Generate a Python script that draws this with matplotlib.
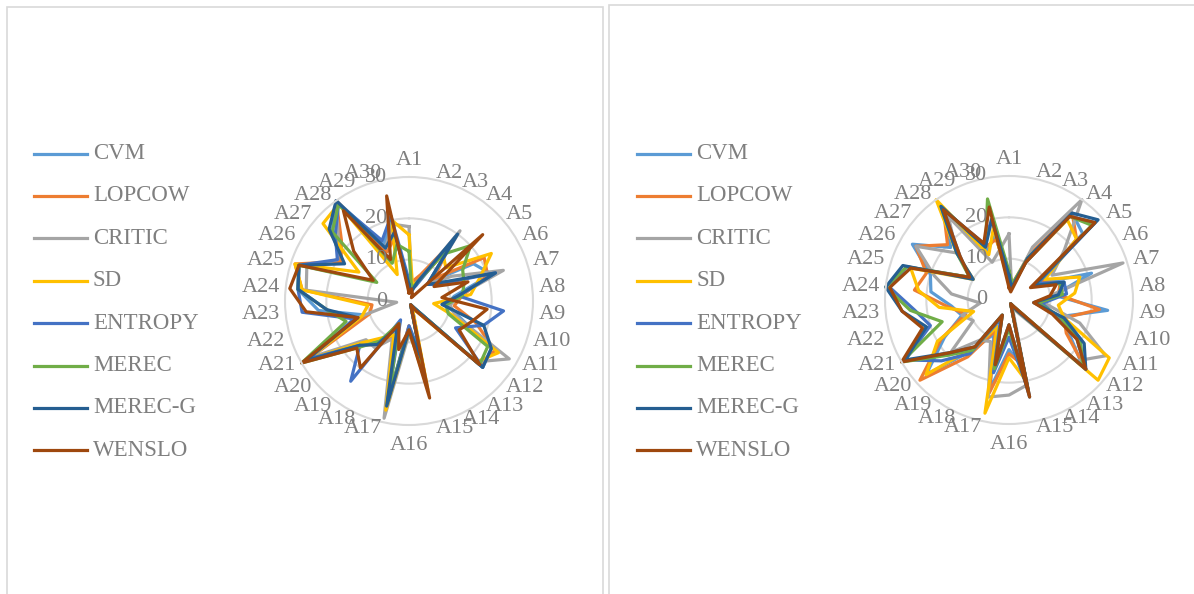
import numpy as np
import matplotlib
matplotlib.use('Agg')
import matplotlib.pyplot as plt
from matplotlib.lines import Line2D
from matplotlib.patches import Rectangle
from matplotlib.transforms import offset_copy

plt.rcParams['font.family'] = ['Liberation Serif', 'DejaVu Serif']

alternatives = ['A%d' % i for i in range(1, 31)]
methods = ['CVM', 'LOPCOW', 'CRITIC', 'SD', 'ENTROPY', 'MEREC', 'MEREC-G', 'WENSLO']
colors = ['#5B9BD5', '#ED7D31', '#A5A5A5', '#FFC000', '#4472C4', '#70AD47', '#255E91', '#9E480E']

# ranks of A1..A30, left panel
cvm_l = [3, 4, 6, 18, 7, 18, 21, 11, 9, 13, 23, 24, 2, 1, 17, 7, 26, 8, 12, 15, 29, 11, 22, 27, 28, 19, 25, 30, 15, 20]
lopcow_l = [4, 5, 7, 17, 8, 21, 20, 13, 11, 17, 24, 23, 3, 2, 18, 6, 27, 9, 13, 16, 28, 10, 9, 26, 29, 19, 22, 30, 13, 16]
critic_l = [18, 3, 5, 21, 6, 12, 24, 12, 10, 12, 28, 22, 2, 1, 16, 8, 29, 10, 14, 14, 27, 13, 3, 25, 26, 20, 23, 30, 14, 19]
sd_l = [16, 4, 5, 14, 12, 23, 18, 15, 6, 11, 25, 22, 3, 2, 22, 7, 27, 9, 11, 15, 28, 12, 10, 26, 29, 14, 28, 29, 7, 20]
entropy_l = [5, 3, 4, 19, 6, 8, 22, 12, 23, 19, 13, 24, 2, 1, 13, 6, 25, 5, 24, 16, 28, 14, 26, 27, 28, 20, 24, 29, 16, 21]
merec_l = [12, 3, 5, 14, 20, 15, 14, 13, 9, 10, 22, 23, 2, 1, 15, 7, 23, 6, 12, 17, 30, 16, 20, 27, 28, 9, 25, 29, 10, 14]
merecg_l = [4, 2, 5, 20, 6, 9, 22, 12, 8, 19, 23, 24, 2, 1, 14, 7, 26, 7, 13, 16, 29, 13, 20, 27, 28, 18, 26, 30, 14, 17]
wenslo_l = [2, 3, 2, 1, 24, 7, 15, 8, 19, 16, 14, 23, 3, 1, 24, 7, 12, 6, 20, 17, 30, 13, 25, 29, 28, 10, 18, 27, 11, 26]

# ranks of A1..A30, right panel
cvm_r = [5, 3, 10, 26, 24, 8, 21, 11, 24, 13, 17, 24, 3, 1, 17, 12, 22, 9, 15, 27, 18, 12, 14, 19, 20, 27, 19, 26, 13, 16]
lopcow_r = [6, 4, 12, 26, 22, 9, 13, 12, 22, 14, 16, 25, 2, 1, 16, 13, 23, 8, 17, 29, 19, 11, 15, 23, 21, 26, 20, 27, 14, 15]
critic_r = [16, 3, 14, 30, 18, 12, 29, 10, 9, 18, 27, 22, 4, 2, 21, 23, 24, 11, 12, 19, 10, 12, 7, 14, 19, 26, 17, 25, 10, 12]
sd_r = [4, 3, 10, 24, 22, 10, 18, 16, 12, 14, 28, 29, 3, 1, 20, 14, 28, 7, 14, 27, 20, 9, 17, 22, 25, 10, 17, 30, 12, 18]
entropy_r = [5, 3, 10, 25, 28, 8, 14, 14, 8, 12, 19, 25, 2, 1, 22, 9, 18, 5, 16, 22, 29, 20, 23, 29, 26, 11, 16, 27, 15, 20]
merec_r = [7, 4, 11, 25, 27, 7, 13, 13, 7, 13, 20, 24, 2, 1, 22, 7, 17, 4, 15, 20, 30, 17, 24, 30, 26, 11, 17, 28, 14, 25]
merecg_r = [6, 3, 11, 26, 29, 7, 14, 12, 6, 14, 21, 25, 3, 1, 24, 6, 16, 4, 14, 19, 29, 21, 26, 30, 27, 10, 17, 28, 14, 20]
wenslo_r = [3, 2, 10, 25, 28, 6, 12, 10, 6, 11, 19, 25, 2, 1, 24, 6, 16, 4, 14, 19, 30, 22, 26, 29, 25, 11, 16, 27, 15, 23]

left_series = [cvm_l, lopcow_l, critic_l, sd_l, entropy_l, merec_l, merecg_l, wenslo_l]
right_series = [cvm_r, lopcow_r, critic_r, sd_r, entropy_r, merec_r, merecg_r, wenslo_r]

W, H = 1194, 594
TXT = '#7F7F7F'
GRID = '#D9D9D9'
FS = 16

fig = plt.figure(figsize=(W / 100, H / 100), dpi=100)

# panel frames
fig.patches.append(Rectangle((7 / W, -0.01), 596 / W, 1 - 7 / H + 0.01,
                             transform=fig.transFigure, fill=False, ec=GRID, lw=1.2))
fig.patches.append(Rectangle((609 / W, -0.01), 600 / W, 1 - 5 / H + 0.01,
                             transform=fig.transFigure, fill=False, ec=GRID, lw=1.2))

angles = np.arange(30) * 2 * np.pi / 30
R_PX = 124


def radar(cx, cy, series):
    ax = fig.add_axes([(cx - R_PX) / W, (H - cy - R_PX) / H, 2 * R_PX / W, 2 * R_PX / H],
                      projection='polar')
    ax.set_theta_zero_location('N')
    ax.set_theta_direction(-1)
    ax.set_ylim(0, 30)
    ax.set_yticks([10, 20])
    ax.set_yticklabels([])
    ax.set_xticks([])
    ax.yaxis.grid(True, color=GRID, lw=1.5)
    ax.xaxis.grid(False)
    ax.spines['polar'].set_color(GRID)
    ax.spines['polar'].set_linewidth(1.5)
    ax.patch.set_alpha(0)

    for vals, col in zip(series, colors):
        v = np.array(vals + vals[:1], dtype=float)
        th = np.append(angles, angles[0])
        ax.plot(th, v, color=col, lw=2.3, solid_joinstyle='round', clip_on=False)

    # radial value labels left of the vertical axis
    tr = offset_copy(ax.transData, fig=fig, x=-22, y=0, units='dots')
    for v in [0, 10, 20, 30]:
        ax.text(0, v, str(v), transform=tr, ha='right', va='center',
                fontsize=FS, color=TXT)

    # category labels just outside the outer circle
    for th, name in zip(angles, alternatives):
        s, c = np.sin(th), np.cos(th)
        if abs(s) < 1e-6:
            ha = 'center'
            va = 'baseline' if c > 0 else 'top'
            off = (0, 12 if c > 0 else -11)
        else:
            ha = 'left' if s > 0 else 'right'
            va = 'center'
            off = (6 * s, 6 * c)
        ax.annotate(name, xy=(th, 30), xytext=off, textcoords='offset pixels',
                    ha=ha, va=va, fontsize=FS, color=TXT, annotation_clip=False)
    return ax


def legend(x0):
    for i, (m, col) in enumerate(zip(methods, colors)):
        y = 1 - (153.5 + i * 42.4) / H
        fig.add_artist(Line2D([x0 / W, (x0 + 53) / W], [y, y], color=col, lw=2.3,
                              transform=fig.transFigure))
        fig.text((x0 + 59) / W, y, m, ha='left', va='center', fontsize=16.5, color=TXT)


radar(409, 301, left_series)
radar(1009, 300, right_series)
legend(34)
legend(637)

fig.savefig('out.png', dpi=100, facecolor='white')
